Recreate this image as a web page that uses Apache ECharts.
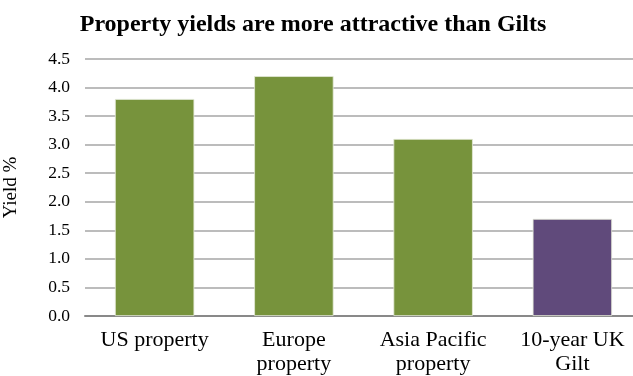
<!DOCTYPE html>
<html><head><meta charset="utf-8">
<script src="https://cdn.jsdelivr.net/npm/echarts@6/dist/echarts.min.js"></script>
<style>html,body{margin:0;padding:0;background:#fff}#c{width:633px;height:376px}</style>
</head><body><div id="c"></div>
<script>
const categories = ['US property', 'Europe\nproperty', 'Asia Pacific\nproperty', '10-year UK\nGilt'];
const yields = [3.8, 4.2, 3.1, 1.7];
const barColors = ['#77933C', '#77933C', '#77933C', '#604A7B'];
const chart = echarts.init(document.getElementById('c'), null, {renderer: 'canvas'});
const serif = '"Liberation Serif", "Times New Roman", serif';
chart.setOption({
  animation: false,
  title: {
    text: 'Property yields are more attractive than Gilts',
    left: 308, top: 8, textAlign: 'center',
    textStyle: {fontFamily: serif, fontWeight: 'bold', fontSize: 24, color: '#000'}
  },
  grid: {left: 85, width: 557, top: 59, height: 257, containLabel: false, outerBoundsMode: 'none'},
  xAxis: {
    type: 'category', data: categories,
    axisLine: {lineStyle: {color: '#898989', width: 2}},
    axisTick: {show: false},
    axisLabel: {fontFamily: serif, fontSize: 22, color: '#000', margin: 12, lineHeight: 24, interval: 0}
  },
  yAxis: {
    type: 'value', min: 0, max: 4.5, interval: 0.5,
    name: 'Yield %', nameLocation: 'middle', nameGap: 64, nameRotate: 90,
    nameTextStyle: {fontFamily: serif, fontSize: 19, color: '#000'},
    axisLine: {show: false}, axisTick: {show: false},
    axisLabel: {fontFamily: serif, fontSize: 17.5, color: '#000', margin: 15,
      formatter: v => v.toFixed(1)},
    splitLine: {lineStyle: {color: '#A6A6A6', width: 1.5}}
  },
  series: [{
    type: 'bar', barWidth: '57%',
    data: yields.map((v, i) => ({value: v, itemStyle: {color: barColors[i]}})),
    itemStyle: {borderColor: '#E4EAD8', borderWidth: 0.8}
  }]
});
</script></body></html>
